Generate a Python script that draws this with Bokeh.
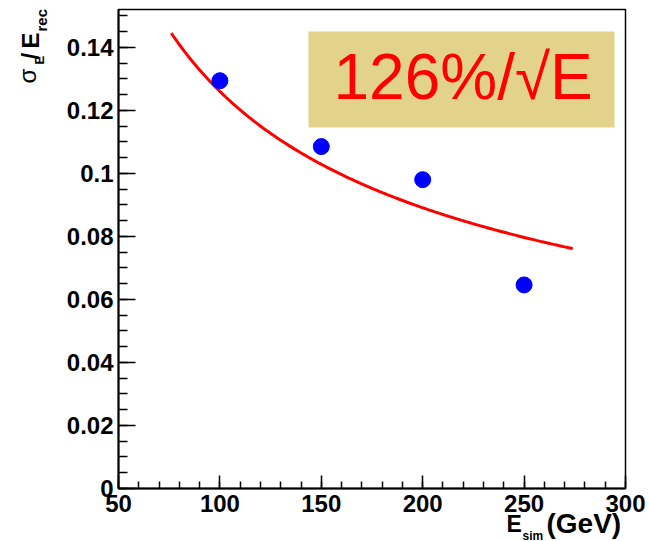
import numpy as np
from bokeh.plotting import figure
from bokeh.models import (Label, BoxAnnotation, SingleIntervalTicker,
                          CustomJSTickFormatter, Range1d)
from bokeh.embed import file_html
from bokeh.resources import INLINE

# Simulated beam energies (GeV) and measured relative energy resolution
e_sim = [100, 150, 200, 250]
sigma_over_e = [0.1294, 0.1085, 0.0980, 0.0646]

# Stochastic-term fit: sigma/E = a / sqrt(E), with a = 126 %
fit_percent = 126
fit_range = [76, 274]
fit_label = "126%/\u221aE"

# axis limits and tick spacing
x_lim = [50, 300]
y_lim = [0, 0.152]
x_major, x_minor_div = 50, 5
y_major, y_minor_div = 0.02, 4

W, H = 649, 541
# pixel placement of the axis box on the canvas
BOX_L, BOX_R, BOX_T, BOX_B = 118, 625, 9, 488

# extend the ranges so that the axis box lands at the pixel placement above
sx = (BOX_R - BOX_L) / (x_lim[1] - x_lim[0])
sy = (BOX_B - BOX_T) / (y_lim[1] - y_lim[0])
x_range = Range1d(x_lim[0] - BOX_L / sx, x_lim[1] + (W - BOX_R) / sx)
y_range = Range1d(y_lim[0] - (H - BOX_B) / sy, y_lim[1] + BOX_T / sy)

p = figure(width=W, height=H, output_backend="svg", toolbar_location=None,
           x_range=x_range, y_range=y_range,
           min_border=0, min_border_left=0, min_border_right=0,
           min_border_top=0, min_border_bottom=0)
p.background_fill_color = "white"
p.border_fill_color = "white"
p.grid.visible = False
p.outline_line_color = None

p.xaxis.ticker = SingleIntervalTicker(interval=x_major, num_minor_ticks=x_minor_div)
p.yaxis.ticker = SingleIntervalTicker(interval=y_major, num_minor_ticks=y_minor_div)
p.yaxis.formatter = CustomJSTickFormatter(
    code="return tick.toFixed(2).replace(/0+$/, '').replace(/\\.$/, '');")
p.xaxis.formatter = CustomJSTickFormatter(code="return tick.toFixed(0);")
p.xaxis.fixed_location = y_lim[0]
p.yaxis.fixed_location = x_lim[0]
p.xaxis.bounds = tuple(x_lim)
p.yaxis.bounds = tuple(y_lim)

for ax in (p.xaxis, p.yaxis):
    ax.axis_line_width = 2
    ax.axis_line_color = "black"
    ax.major_tick_out = 0
    ax.minor_tick_out = 0
    ax.major_tick_line_width = 1.5
    ax.minor_tick_line_width = 1.5
    ax.major_label_text_font = "Liberation Sans"
    ax.major_label_text_font_style = "bold"
    ax.major_label_text_font_size = "24px"
    ax.major_label_text_color = "black"
p.xaxis.major_tick_in = 13
p.xaxis.minor_tick_in = 7
p.yaxis.major_tick_in = 17
p.yaxis.minor_tick_in = 9
p.xaxis.major_label_standoff = 6
p.yaxis.major_label_standoff = 5

# top and right edges of the axis box
p.quad(left=x_lim[0], right=x_lim[1], bottom=y_lim[0], top=y_lim[1],
       fill_color=None, line_color="black", line_width=1.5)

# fit curve
e_fit = np.linspace(fit_range[0], fit_range[1], 200)
res_fit = fit_percent / 100.0 / np.sqrt(e_fit)
p.line(e_fit, res_fit, line_color="#ff0000", line_width=3)

# measured points
p.scatter(e_sim, sigma_over_e, marker="circle", size=16,
          fill_color="#0000ff", line_color="#0000ff")

# fit result box
p.add_layout(BoxAnnotation(left=308, right=614, top=H - 31, bottom=H - 127,
                           left_units="screen", right_units="screen",
                           top_units="screen", bottom_units="screen",
                           fill_color="#e3d38a", fill_alpha=1.0,
                           line_color=None, level="annotation"))

def piece(txt, x, y, size, bold=True, angle=0.0, color="black", font="Liberation Sans"):
    # (x, y): start of the text, measured from the canvas top-left, at the
    # vertical middle of the line
    p.add_layout(Label(x=x, y=y, x_units="canvas", y_units="canvas",
                       text=txt, angle=angle, text_align="left",
                       text_baseline="middle", text_color=color,
                       text_font=font,
                       text_font_style="bold" if bold else "normal",
                       text_font_size=size))

piece(fit_label, 333, 76, "64px", bold=False, color="#ff0000")

# y-axis title: sigma_E / E_rec (reads bottom to top)
ang = np.pi / 2
piece("\u03c3", 27, 83, "24px", bold=False, angle=ang)
piece("E", 39, 64, "13px", angle=ang)
piece("/", 30, 59, "24px", angle=ang)
piece("E", 30, 48, "24px", angle=ang)
piece("rec", 41, 31, "15px", angle=ang)

# x-axis title: E_sim (GeV)
piece("E", 506, 523, "23px")
piece("sim", 522, 535, "12px")
piece("(GeV)", 546, 523, "28px")

open("out.html", "w").write(file_html(p, INLINE))
